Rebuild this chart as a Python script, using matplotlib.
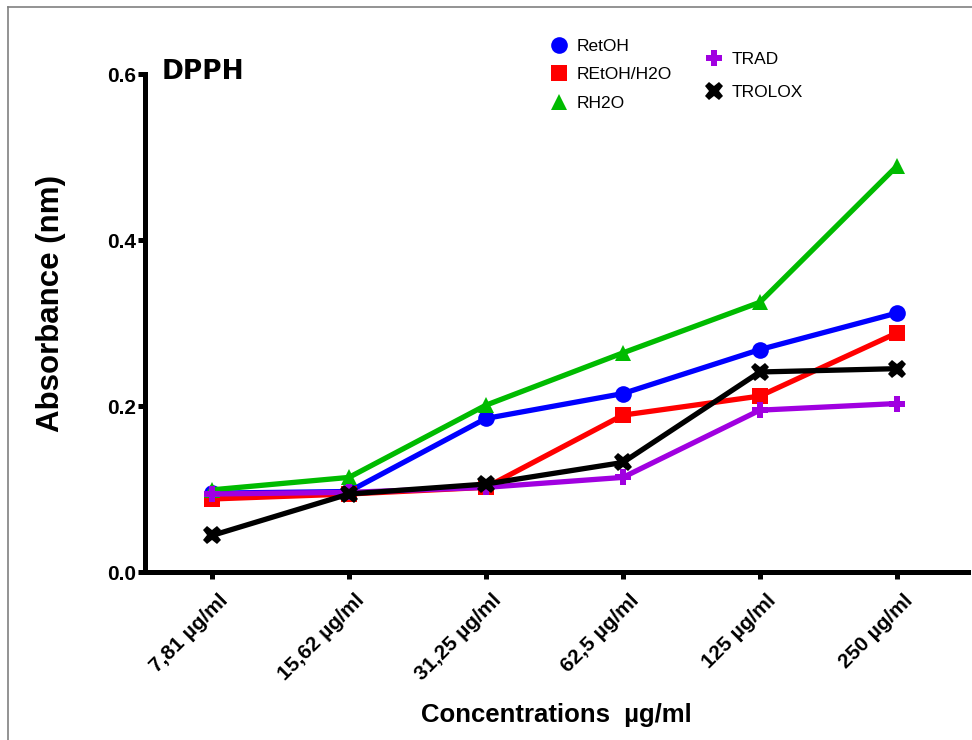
import matplotlib.pyplot as plt
import matplotlib.lines as mlines
import matplotlib.transforms as mtransforms
import numpy as np

# DPPH absorbance per concentration
concentrations = ["7,81 µg/ml", "15,62 µg/ml", "31,25 µg/ml", "62,5 µg/ml", "125 µg/ml", "250 µg/ml"]
retoh = [0.095, 0.097, 0.185, 0.215, 0.268, 0.312]
retoh_h2o = [0.088, 0.094, 0.102, 0.189, 0.212, 0.288]
rh2o = [0.099, 0.114, 0.201, 0.264, 0.325, 0.489]
trad = [0.094, 0.096, 0.102, 0.114, 0.195, 0.203]
trolox = [0.044, 0.094, 0.106, 0.132, 0.241, 0.245]

plt.rcParams['font.family'] = ['Liberation Sans', 'DejaVu Sans']

fig = plt.figure(figsize=(9.72, 7.4), dpi=100)
ax = fig.add_axes([0.149, 0.227, 0.847, 0.673])

x = np.arange(len(concentrations))
lw = 3.8
series = [
    (retoh, "RetOH", "#0000ff", "o", 12),
    (retoh_h2o, "REtOH/H2O", "#ff0000", "s", 11),
    (rh2o, "RH2O", "#00bb00", "^", 12),
    (trad, "TRAD", "#a000e0", "P", 12),
    (trolox, "TROLOX", "#000000", "X", 13),
]
handles = []
for vals, name, col, mk, ms in series:
    ax.plot(x, vals, color=col, lw=lw, marker=mk, markersize=ms,
            markeredgewidth=0, solid_joinstyle='round')
    handles.append(mlines.Line2D([], [], color=col, lw=0, marker=mk,
                                 markersize=ms, markeredgewidth=0, label=name))

ax.set_xlim(-0.49, 5.52)
ax.set_ylim(0, 0.6)
ax.set_yticks([0.0, 0.2, 0.4, 0.6])
ax.set_yticklabels(["0.0", "0.2", "0.4", "0.6"])
ax.set_xticks(x)
ax.set_xticklabels(concentrations, rotation=45, ha='right', rotation_mode='anchor')

for s in ['top', 'right']:
    ax.spines[s].set_visible(False)
for s in ['left', 'bottom']:
    ax.spines[s].set_linewidth(3.6)
ax.tick_params(axis='both', width=3.6, length=5, labelsize=15)
ax.tick_params(axis='y', pad=1.5)
ax.tick_params(axis='x', pad=4)
for lab in ax.get_xticklabels() + ax.get_yticklabels():
    lab.set_fontweight('bold')
# nudge rotated category labels a little right/down
offset = mtransforms.ScaledTranslation(6 / 100, -6 / 100, fig.dpi_scale_trans)
for lab in ax.get_xticklabels():
    lab.set_transform(lab.get_transform() + offset)

ax.set_ylabel("Absorbance (nm)", fontsize=22.5, fontweight='bold')
ax.yaxis.set_label_coords(-0.096, 0.54)
ax.set_xlabel("Concentrations  µg/ml", fontsize=18.5, fontweight='bold', labelpad=14)

ax.text(0.02, 1.005, "DPPH", transform=ax.transAxes, fontsize=19,
        fontweight='bold', family='DejaVu Sans', va='center', ha='left')

leg_kw = dict(frameon=False, fontsize=12.5, handlelength=1.0, handletextpad=0.5,
              borderaxespad=0, borderpad=0)
leg1 = ax.legend(handles=handles[:3], loc='upper left', bbox_to_anchor=(0.493, 1.07),
                 labelspacing=0.75, **leg_kw)
ax.add_artist(leg1)
ax.legend(handles=handles[3:], loc='upper left', bbox_to_anchor=(0.681, 1.045),
          labelspacing=1.05, **leg_kw)

# gray page frame around the figure
frame_kw = dict(color='#808080', lw=1.2, transform=fig.transFigure)
fig.add_artist(mlines.Line2D([0.008, 1.0], [0.990, 0.990], **frame_kw))
fig.add_artist(mlines.Line2D([0.008, 0.008], [0.0, 0.990], **frame_kw))

fig.savefig("out.png", dpi=100)
